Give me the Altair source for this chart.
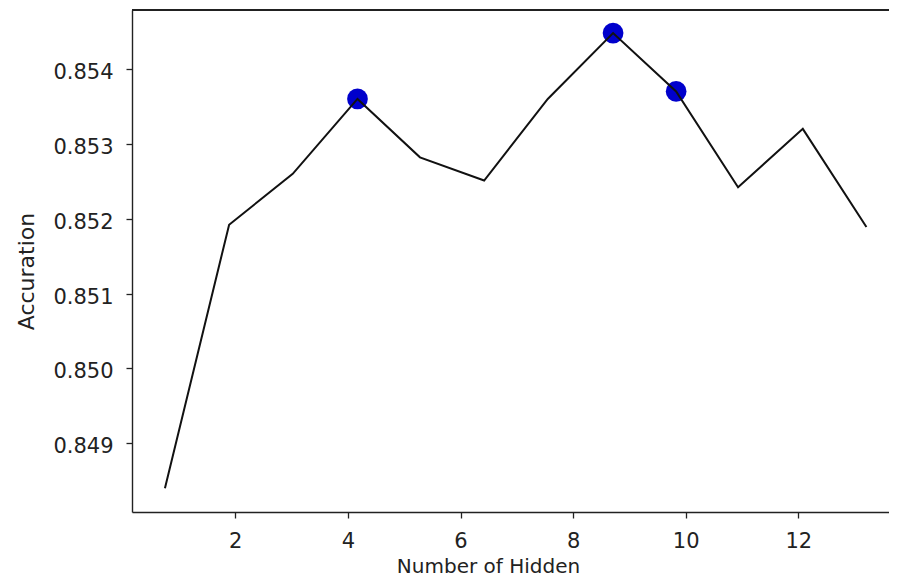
import altair as alt
import pandas as pd

# Values (x in axis units, y in accuracy)
hidden = [0.75, 1.89, 3.02, 4.17, 5.28, 6.42, 7.55, 8.71, 9.83, 10.93, 12.08, 13.21]
accuracy = [0.8484, 0.85192, 0.8526, 0.8536, 0.85282, 0.85251, 0.8536, 0.85448,
            0.8537, 0.85242, 0.8532, 0.85189]
highlight = [False, False, False, True, False, False, False, True, True, False, False, False]

x_ticks = [2, 4, 6, 8, 10, 12]
y_ticks = [0.849, 0.850, 0.851, 0.852, 0.853, 0.854]
x_domain = [0.165, 13.611]
y_domain = [0.848082, 0.854788]

df = pd.DataFrame({"hidden": hidden, "acc": accuracy, "hl": highlight})

FONT = "DejaVu Sans"
FRAME = "#222"

x_enc = alt.X(
    "hidden:Q",
    scale=alt.Scale(domain=x_domain, nice=False, zero=False),
    axis=alt.Axis(
        values=x_ticks, title="Number of Hidden", grid=False,
        domain=True, domainColor=FRAME, domainWidth=1.4,
        tickSize=6, tickWidth=1.3, tickColor=FRAME,
        labelFont=FONT, labelFontSize=21, labelColor="#222", labelPadding=12,
        titleFont=FONT, titleFontSize=20, titleFontWeight="normal", titleColor="#222",
        titleX=356, titleY=60, titleBaseline="alphabetic", titleAlign="center",
        format="d",
    ),
)
y_enc = alt.Y(
    "acc:Q",
    scale=alt.Scale(domain=y_domain, nice=False, zero=False),
    axis=alt.Axis(
        values=y_ticks, title="Accuration", grid=False,
        domain=True, domainColor=FRAME, domainWidth=1.4,
        tickSize=6, tickWidth=1.3, tickColor=FRAME,
        labelFont=FONT, labelFontSize=21, labelColor="#222", labelPadding=13,
        labelOffset=3.5, format=".3f",
        titleFont=FONT, titleFontSize=22, titleFontWeight="normal", titleColor="#222",
        titleX=-99, titleY=261, titleBaseline="alphabetic", titleAlign="center",
        titleAngle=270,
    ),
)

# top frame line at the upper end of the y scale
top_frame = alt.Chart(df).mark_rule(color=FRAME, strokeWidth=1.4).encode(
    y=alt.Y(datum=y_domain[1], scale=alt.Scale(domain=y_domain, nice=False, zero=False))
)

points = alt.Chart(df).transform_filter(alt.datum.hl).mark_circle(
    size=430, color="#0000CC", opacity=1
).encode(x=x_enc, y=y_enc)

line = alt.Chart(df).mark_line(color="#111", strokeWidth=2).encode(x=x_enc, y=y_enc)

chart = alt.layer(points, line, top_frame).properties(
    width=757, height=502,
    autosize=alt.AutoSizeParams(type="none"),
    padding={"left": 124, "top": 2, "right": 0, "bottom": 64},
    background="white",
).configure_view(stroke=None)

chart.save("out.html", embed_options={"renderer": "svg", "actions": False})
